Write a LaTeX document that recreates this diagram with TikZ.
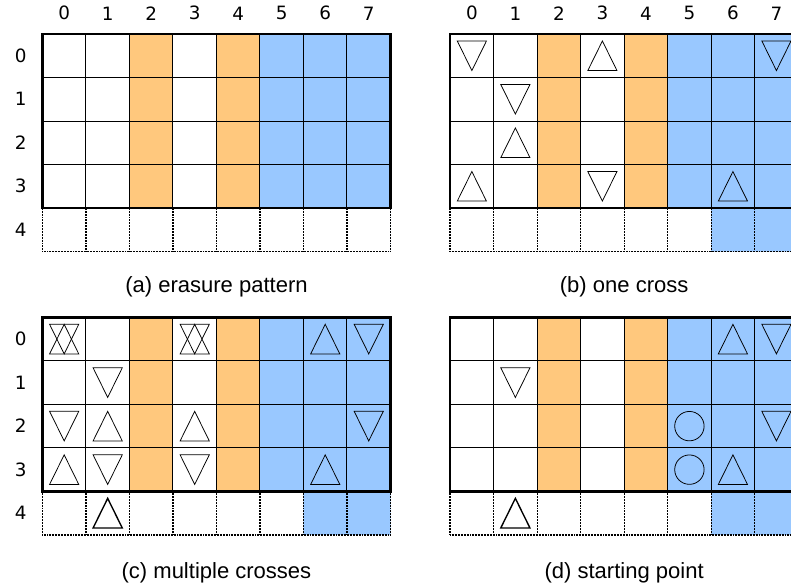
\documentclass[tikz,border=0pt]{standalone}
\usepackage{fontspec}
\setmainfont{Liberation Sans}
\newfontfamily\digitfont{DejaVu Sans}
\usepackage{xcolor}
\definecolor{erasorange}{RGB}{255,200,125}
\definecolor{erasblue}{RGB}{153,200,255}

\begin{document}
\begin{tikzpicture}[
  gridline/.style={line width=0.65pt},
  digit/.style={font=\digitfont\fontsize{12}{14}\selectfont},
  caption/.style={font=\fontsize{14.4}{16}\selectfont},
  tup/.pic={\draw[line join=miter] (-0.335,-0.34)--(0.335,-0.34)--(0,0.34)--cycle;},
  tdn/.pic={\draw[line join=miter] (-0.335,0.34)--(0.335,0.34)--(0,-0.34)--cycle;},
  ring/.pic={\draw (0,0) circle (0.338);}]
  \clip (0,0) rectangle (18.18,-13.45);
  % the four grids
  \foreach \gx/\gy/\bl in {0.975/-0.782/8,10.345/-0.782/6,0.975/-7.294/6,10.345/-7.294/6}{
    \begin{scope}[shift={(\gx,\gy)}]
      \fill[erasorange] (2,0) rectangle (3,-4) (4,0) rectangle (5,-4);
      \fill[erasblue] (5,0) rectangle (8,-4) (\bl,-4) rectangle (8,-5);
      \draw[gridline] (0,0) grid (8,-4);
      \draw[line width=0.8pt,dash pattern=on 0.6pt off 0.4pt] (0,-4) grid (8,-5);
      \draw[line width=1.5pt] (0,0) rectangle (8,-4);
    \end{scope}
  }
  % indices
  \foreach \i in {0,...,7}{
    \node[digit] (acol\i) at (1.475+\i,-0.306) {\i};
    \node[digit] (bcol\i) at (10.845+\i,-0.306) {\i};
  }
  \foreach \i in {0,...,4}{
    \node[digit] (arow\i) at (0.476,-1.282-\i) {\i};
    \node[digit] (crow\i) at (0.476,-7.794-\i) {\i};
  }
  % (b) one cross
  \begin{scope}[shift={(10.345,-0.782)},line width=0.5pt]
    \foreach \c/\r in {0/0,7/0,1/1,3/3} \pic at (\c+0.5,-\r-0.5) {tdn};
    \foreach \c/\r in {3/0,1/2,0/3,6/3} \pic at (\c+0.5,-\r-0.5) {tup};
  \end{scope}
  % (c) multiple crosses
  \begin{scope}[shift={(0.975,-7.294)},line width=0.5pt]
    \foreach \c/\r in {0/0,3/0,7/0,1/1,0/2,7/2,1/3,3/3} \pic at (\c+0.5,-\r-0.5) {tdn};
    \foreach \c/\r in {0/0,3/0,6/0,1/2,3/2,0/3,6/3} \pic at (\c+0.5,-\r-0.5) {tup};
    \pic[line width=0.9pt] at (1.5,-4.5) {tup};
  \end{scope}
  % (d) starting point
  \begin{scope}[shift={(10.345,-7.294)},line width=0.5pt]
    \foreach \c/\r in {7/0,1/1,7/2} \pic at (\c+0.5,-\r-0.5) {tdn};
    \foreach \c/\r in {6/0,6/3} \pic at (\c+0.5,-\r-0.5) {tup};
    \foreach \r in {2,3} \pic at (5.5,-\r-0.5) {ring};
    \pic[line width=0.9pt] at (1.5,-4.5) {tup};
  \end{scope}
  % captions
  \node[caption] (capa) at (4.975,-6.6) {(a) erasure pattern};
  \node[caption] (capb) at (14.345,-6.6) {(b) one cross};
  \node[caption] (capc) at (4.975,-13.17) {(c) multiple crosses};
  \node[caption] (capd) at (14.345,-13.17) {(d) starting point};
\end{tikzpicture}
\end{document}
